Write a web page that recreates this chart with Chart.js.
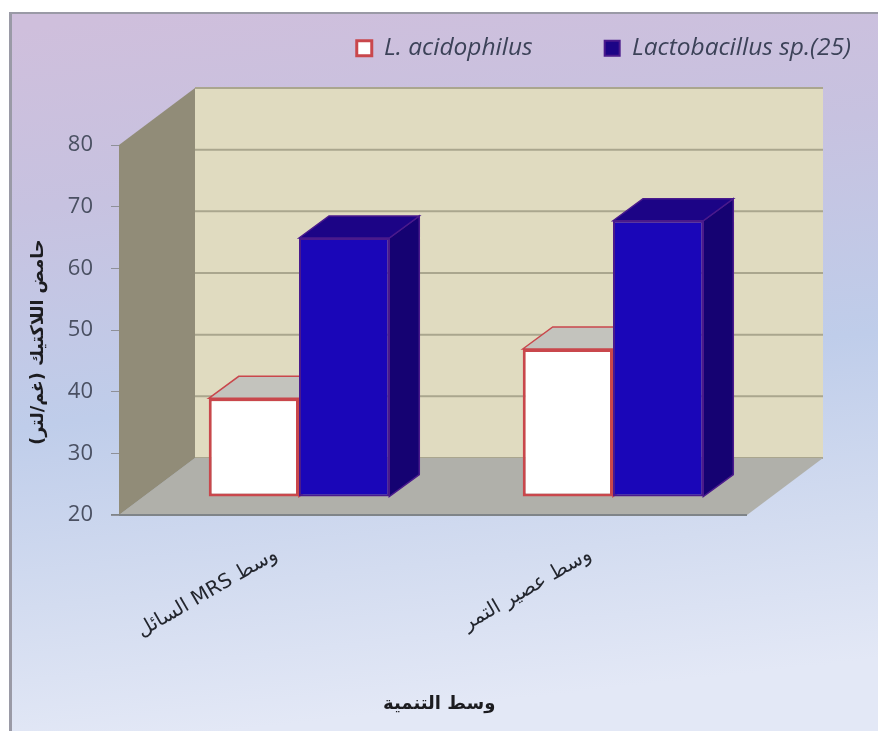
<!DOCTYPE html>
<html><head><meta charset="utf-8">
<style>html,body{margin:0;padding:0;background:#fff}canvas{display:block}</style>
<script src="https://cdn.jsdelivr.net/npm/chart.js@4"></script>
</head><body><canvas id="c" width="878" height="731"></canvas>
<script>
const categories = ["\u202Bوسط MRS السائل\u202C", "\u202Bوسط عصير التمر\u202C"];
const seriesNames = ["L. acidophilus", "Lactobacillus sp.(25)"];
const acidophilusValues = [36, 44];
const lactobacillusValues = [62, 64.8];
const yTitle = "\u202B\u00A0\u00A0\u00A0\u00A0حامض اللاكتيك (غم/لتر)\u202C";
const xTitle = "\u00A0\u00A0وسط التنمية";

const WALL = {dx: 76, dy: -57};
const BAR = {dx: 30, dy: -22, ox: 23, oy: -18};
const TOPS = ["#c3c3bd", "#1c0486"];
const SIDES = ["#c8c8c2", "#150272"];

function poly(ctx, pts, fill, stroke, lw) {
  ctx.beginPath();
  pts.forEach((p, i) => i ? ctx.lineTo(p[0], p[1]) : ctx.moveTo(p[0], p[1]));
  ctx.closePath();
  if (fill) { ctx.fillStyle = fill; ctx.fill(); }
  if (stroke) { ctx.strokeStyle = stroke; ctx.lineWidth = lw || 1; ctx.stroke(); }
}

const scene = {
  id: "scene",
  beforeLayout(chart) {
    chart.legend.fit = function () {
      Object.getPrototypeOf(this).fit.call(this);
      this.height = 181;
    };
  },
  afterLayout(chart) {
    chart.legend.right = 923;
  },
  beforeDraw(chart) {
    const ctx = chart.ctx, W = chart.width, H = chart.height;
    ctx.save();
    ctx.fillStyle = "#fff";
    ctx.fillRect(0, 0, W, H);
    const g = ctx.createLinearGradient(150, 13, 230, H);
    g.addColorStop(0, "#cfbfdc");
    g.addColorStop(0.25, "#c7c2e0");
    g.addColorStop(0.55, "#bfcdea");
    g.addColorStop(0.8, "#d3dcf0");
    g.addColorStop(1, "#e3e8f6");
    ctx.fillStyle = g;
    ctx.fillRect(10, 13, W - 10, H - 13);
    ctx.fillStyle = "#9a9aa6";
    ctx.fillRect(9, 12, W - 9, 2);
    ctx.fillRect(9, 12, 3, H - 12);
    const a = chart.chartArea, d = WALL;
    const top = a.top, bot = a.bottom, l = a.left, r = a.right;
    poly(ctx, [[l + d.dx, top + d.dy], [r + d.dx, top + d.dy], [r + d.dx, bot + d.dy], [l + d.dx, bot + d.dy]], "#e0dbc0");
    const y = chart.scales.y;
    ctx.strokeStyle = "#aaa68e"; ctx.lineWidth = 2;
    y.ticks.forEach(t => {
      const p = y.getPixelForValue(t.value) + d.dy;
      ctx.beginPath(); ctx.moveTo(l + d.dx, p); ctx.lineTo(r + d.dx, p); ctx.stroke();
    });
    poly(ctx, [[l, bot], [r, bot], [r + d.dx, bot + d.dy], [l + d.dx, bot + d.dy]], "#b0b0aa");
    poly(ctx, [[l, top], [l + d.dx, top + d.dy], [l + d.dx, bot + d.dy], [l, bot]], "#918c78");
    ctx.strokeStyle = "#7f8488"; ctx.lineWidth = 2;
    ctx.beginPath(); ctx.moveTo(l - 8, bot); ctx.lineTo(r, bot); ctx.stroke();
    ctx.restore();
  },
  beforeDatasetsDraw(chart) {
    const ctx = chart.ctx;
    ctx.save();
    ctx.translate(BAR.ox, BAR.oy);
    chart.data.datasets.forEach((ds, i) => {
      chart.getDatasetMeta(i).data.forEach(b => {
        const p = b.getProps(["x", "y", "base", "width"], true);
        const x0 = p.x - p.width / 2, x1 = p.x + p.width / 2, dx = BAR.dx, dy = BAR.dy;
        const edge = ds.borderColor;
        poly(ctx, [[x1, p.y], [x1 + dx, p.y + dy], [x1 + dx, p.base + dy], [x1, p.base]], SIDES[i], edge, 1.5);
        poly(ctx, [[x0, p.y], [x0 + dx, p.y + dy], [x1 + dx, p.y + dy], [x1, p.y]], TOPS[i], edge, 1.5);
      });
    });
  },
  afterDatasetsDraw(chart) {
    chart.ctx.restore();
  }
};

new Chart(document.getElementById("c"), {
  type: "bar",
  data: {
    labels: categories,
    datasets: [
      {label: seriesNames[0], data: acidophilusValues, base: 20, clip: false, borderSkipped: false, backgroundColor: "#ffffff", borderColor: "#c9474c", borderWidth: 3},
      {label: seriesNames[1], data: lactobacillusValues, base: 20, clip: false, borderSkipped: false, backgroundColor: "#1a06b8", borderColor: "#4a1a8c", borderWidth: 2}
    ]
  },
  plugins: [scene],
  options: {
    responsive: false,
    animation: false,
    devicePixelRatio: 1,
    layout: {padding: {top: -36, left: 0, right: 131, bottom: 0}},
    datasets: {bar: {categoryPercentage: 0.575, barPercentage: 1}},
    plugins: {
      tooltip: {enabled: false},
      legend: {
        position: "top", align: "end",
        labels: {
          boxWidth: 15, boxHeight: 15, padding: 72,
          color: "#3c4258",
          font: {family: "Open Sans", style: "italic", size: 24.5},
          generateLabels(c) {
            const items = Chart.defaults.plugins.legend.labels.generateLabels(c);
            items[1].fillStyle = TOPS[1];
            return items;
          }
        }
      }
    },
    scales: {
      x: {
        afterFit(s) { s.height = 216; },
        grid: {display: false},
        border: {display: false},
        ticks: {
          minRotation: 30, maxRotation: 30, autoSkip: false, padding: 20,
          color: "#23262e", font: {family: "DejaVu Sans", size: 20}
        },
        title: {display: true, text: xTitle, color: "#1c1c20",
          font: {family: "DejaVu Sans", weight: "bold", size: 18}, padding: {top: 0, bottom: 16}}
      },
      y: {
        min: 20, max: 80,
        afterFit(s) { s.width = 119; },
        grid: {drawOnChartArea: false, drawTicks: true, tickLength: 8, color: "#8e9098"},
        border: {display: false},
        ticks: {stepSize: 10, padding: 18, color: "#4a5062", font: {family: "Open Sans", size: 22}},
        title: {display: true, text: yTitle, color: "#1c1c20",
          font: {family: "DejaVu Sans", weight: "bold", size: 17.5}, padding: {top: 28, bottom: 0}}
      }
    }
  }
});
</script></body></html>
